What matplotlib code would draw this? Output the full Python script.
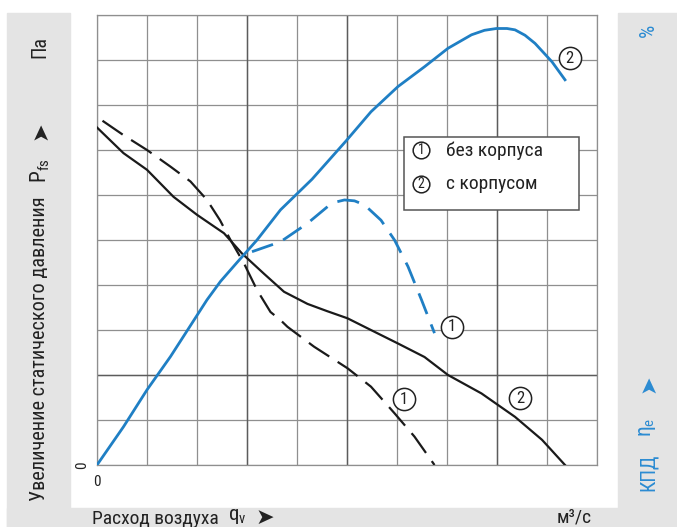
import matplotlib
matplotlib.use("Agg")
import matplotlib.pyplot as plt
from matplotlib.patches import Rectangle

# ---------------- data (grid units: 10 x 10 cells) ----------------
# black solid: static pressure, with housing (2)
p_housed_x = [0, 0.53, 1.0, 1.53, 2.0, 2.54, 2.9, 3.34, 3.74, 4.21, 4.6, 5.01, 5.55,
              6.02, 6.55, 7.02, 7.69, 8.36, 8.9, 9.36]
p_housed_y = [7.5, 6.93, 6.56, 5.96, 5.56, 5.15, 4.70, 4.25, 3.85, 3.58, 3.42, 3.26, 2.96,
              2.70, 2.40, 2.0, 1.59, 1.07, 0.56, 0.0]
# black dashed: static pressure, without housing (1)
p_free_x = [0.11, 0.53, 1.0, 1.47, 1.87, 2.2, 2.46, 2.67, 2.94, 3.2, 3.47, 3.67, 3.81,
            4.34, 5.01, 5.48, 5.95, 6.35, 6.75]
p_free_y = [7.65, 7.33, 7.0, 6.63, 6.3, 5.89, 5.44, 5.0, 4.48, 3.89, 3.4, 3.22, 3.07,
            2.63, 2.15, 1.74, 1.15, 0.63, 0.0]
# blue solid: efficiency, with housing (2)
eff_housed_x = [0, 0.53, 1.0, 1.47, 1.87, 2.2, 2.47, 2.8, 3.2, 3.67, 4.3, 4.98, 5.48,
                6.02, 6.55, 7.02, 7.49, 7.75, 7.99, 8.2, 8.36, 8.56, 8.76, 9.1, 9.36]
eff_housed_y = [0, 0.85, 1.67, 2.41, 3.1, 3.67, 4.08, 4.5, 5.0, 5.67, 6.35, 7.2, 7.85,
                8.41, 8.85, 9.26, 9.56, 9.66, 9.70, 9.70, 9.67, 9.55, 9.37, 8.96, 8.56]
# blue dashed: efficiency, without housing (1)
eff_free_x = [3.1, 3.67, 4.21, 4.61, 4.8, 4.95, 5.15, 5.35, 5.68, 5.95, 6.22, 6.49, 6.75]
eff_free_y = [4.74, 4.96, 5.37, 5.74, 5.85, 5.89, 5.87, 5.78, 5.44, 5.0, 4.41, 3.67, 2.93]

grid_ticks = list(range(11))
legend_labels = ["без корпуса", "с корпусом"]

# ---------------- style ----------------
FONT = ["Roboto Condensed", "Open Sans Condensed", "Liberation Sans Narrow", "Roboto",
        "DejaVu Sans"]
plt.rcParams["font.family"] = FONT
plt.rcParams["mathtext.fontset"] = "custom"
plt.rcParams["mathtext.rm"] = "Roboto Condensed"
plt.rcParams["mathtext.it"] = "Roboto Condensed"

BLUE = "#1f7fc4"
BLUE_TXT = "#2b8bd2"
GRAY_BG = "#e4e4e4"
TXT = "#222222"

W, H = 677, 527
fig = plt.figure(figsize=(W / 100, H / 100), dpi=100)
fig.patch.set_facecolor("white")

def fx(px):
    return px / W

def fy(py):
    return 1 - py / H

# gray frame strips
fig.patches.append(Rectangle((fx(7), 0), fx(70) - fx(7), fy(13), transform=fig.transFigure,
                             color=GRAY_BG, zorder=0))
fig.patches.append(Rectangle((fx(618), 0), 1 - fx(618), fy(13), transform=fig.transFigure,
                             color=GRAY_BG, zorder=0))
fig.patches.append(Rectangle((fx(7), 0), 1 - fx(7), fy(508), transform=fig.transFigure,
                             color=GRAY_BG, zorder=0))

ax = fig.add_axes([fx(97), fy(465), fx(597) - fx(97), fy(15) - fy(465)])
ax.set_xlim(0, 10)
ax.set_ylim(0, 10)
ax.set_xticks(grid_ticks)
ax.set_yticks(grid_ticks)
ax.tick_params(length=0, labelbottom=False, labelleft=False)
ax.grid(True, color="#8f8f8f", lw=0.9)
for v in (3, 5, 8):
    ax.axvline(v, color="#5c5c5c", lw=1.0, zorder=1)
ax.axhline(2, color="#5c5c5c", lw=1.0, zorder=1)
for s in ax.spines.values():
    s.set_color("#8f8f8f")
    s.set_linewidth(0.9)
ax.set_axisbelow(True)

ax.plot(p_housed_x, p_housed_y, color="#1a1a1a", lw=1.6, solid_joinstyle="round", zorder=3)
ax.plot(p_free_x, p_free_y, color="#1a1a1a", lw=1.6, dashes=(11, 4.5), zorder=3)
ax.plot(eff_housed_x, eff_housed_y, color=BLUE, lw=2.0, solid_joinstyle="round", zorder=4)
ax.plot(eff_free_x, eff_free_y, color=BLUE, lw=2.0, dashes=(8, 4), zorder=4)

# circled curve markers
def circ(x, y, s, ms=16, fs=12):
    ax.plot([x], [y], "o", ms=ms, mfc="white", mec="#222222", mew=1.1, zorder=6,
            clip_on=False)
    ax.text(x, y, s, ha="center", va="center", fontsize=fs, color=TXT, zorder=7)

circ(7.09, 3.07, "1")
circ(6.14, 1.46, "1")
circ(8.46, 1.48, "2")
circ(9.45, 9.04, "2")

# legend box
ax.add_patch(Rectangle((6.14, 5.67), 3.5, 1.62, fc="white", ec="#555555", lw=1.1, zorder=5))
circ(6.48, 6.99, "1", ms=12, fs=10)
circ(6.48, 6.24, "2", ms=12, fs=10)
ax.text(6.98, 6.99, legend_labels[0], ha="left", va="center", fontsize=14, color=TXT, zorder=7)
ax.text(6.98, 6.24, legend_labels[1], ha="left", va="center", fontsize=14, color=TXT, zorder=7)

# zero labels
fig.text(fx(82), fy(465), "0", ha="center", va="center", fontsize=11, rotation=90, color=TXT)
fig.text(fx(97), fy(482), "0", ha="center", va="center", fontsize=11, color=TXT)

# left axis title
fig.text(fx(40), fy(47), "Па", rotation=90, ha="center", va="center", fontsize=14.5, color=TXT)
fig.text(fx(40), fy(131), "➤", rotation=90, ha="center", va="center", fontsize=16,
         color=TXT, family="DejaVu Sans")
fig.text(fx(40), fy(171), r"$\mathregular{P_{fs}}$", rotation=90, ha="center", va="center",
         fontsize=15.5, color=TXT)
fig.text(fx(40), fy(349), "Увеличение статического давления", rotation=90, ha="center",
         va="center", fontsize=14.6, color=TXT)

# right axis title
fig.text(fx(648), fy(30), "%", rotation=90, ha="center", va="center", fontsize=15,
         color=BLUE_TXT)
fig.text(fx(648), fy(384), "➤", rotation=90, ha="center", va="center", fontsize=16,
         color=BLUE_TXT, family="DejaVu Sans")
fig.text(fx(648), fy(427), r"$\mathregular{η_e}$", rotation=90, ha="center", va="center",
         fontsize=15.5, color=BLUE_TXT)
fig.text(fx(648), fy(472), "КПД", rotation=90, ha="center", va="center", fontsize=14.8,
         color=BLUE_TXT)

# bottom axis title
fig.text(fx(92), fy(519), "Расход воздуха", ha="left", va="center", fontsize=14, color=TXT)
fig.text(fx(237), fy(517), r"$\mathregular{q_v}$", ha="center", va="center", fontsize=15,
         color=TXT)
fig.text(fx(265), fy(518), "➤", ha="center", va="center", fontsize=16, color=TXT,
         family="DejaVu Sans")
fig.text(fx(574), fy(518), "м³/с", ha="center", va="center", fontsize=14, color=TXT)

fig.savefig("out.png", dpi=100)
